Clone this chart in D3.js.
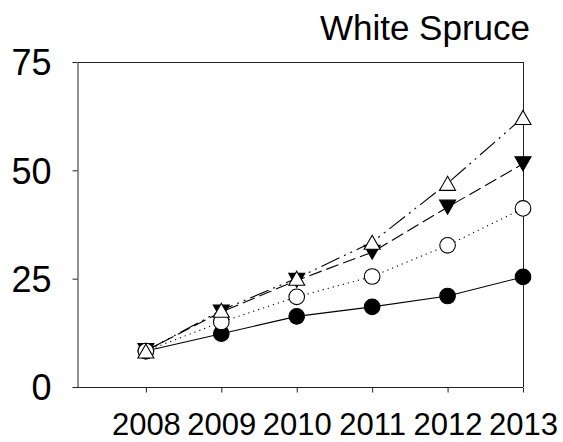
<!DOCTYPE html>
<html>
<head>
<meta charset="utf-8">
<script src="https://cdn.jsdelivr.net/npm/d3@7"></script>
<style>
  html, body { margin: 0; padding: 0; background: #fff; }
  svg { display: block; font-family: Arial, "Liberation Sans", sans-serif; }
</style>
</head>
<body>
<svg id="chart" width="563" height="442"></svg>
<script>
// Height growth of White Spruce, 2008–2013, four treatments
const years = [2008, 2009, 2010, 2011, 2012, 2013];
const yTicks = [0, 25, 50, 75];
const title = "White Spruce";

const filledCircle   = [8.3, 12.3, 16.3, 18.5, 21.0, 25.4];
const openCircle     = [8.3, 15.0, 20.8, 25.5, 32.7, 41.2];
const filledTriangle = [8.4, 17.3, 24.6, 31.1, 41.5, 51.5];
const openTriangle   = [8.3, 17.7, 25.1, 33.4, 47.0, 62.2];

const series = [
  { values: filledCircle,   marker: "circle",   fill: "#000", dash: null },
  { values: filledTriangle, marker: "triDown",  fill: "#000", dash: "13,5" },
  { values: openCircle,     marker: "circle",   fill: "#fff", dash: "1.2,4" },
  { values: openTriangle,   marker: "triUp",    fill: "#fff", dash: "20,5,2,5,2,5" }
];

const svg = d3.select("#chart");
const plot = { left: 78, right: 523, top: 62, bottom: 387 };

const x = d3.scaleLinear().domain([2007.1, 2013]).range([plot.left, plot.right]);
const y = d3.scaleLinear().domain([0, 75]).range([plot.bottom, plot.top]);

// Frame: top and right edges
svg.append("line")
  .attr("x1", plot.left).attr("x2", plot.right)
  .attr("y1", plot.top + 0.5).attr("y2", plot.top + 0.5)
  .attr("stroke", "#222").attr("stroke-width", 1);
svg.append("line")
  .attr("x1", plot.right + 0.5).attr("x2", plot.right + 0.5)
  .attr("y1", plot.top).attr("y2", plot.bottom)
  .attr("stroke", "#222").attr("stroke-width", 1);

// Axes
const xAxis = d3.axisBottom(x).tickValues(years).tickFormat(d3.format("d"))
  .tickSizeInner(5).tickSizeOuter(0).tickPadding(20);
const yAxis = d3.axisLeft(y).tickValues(yTicks)
  .tickSizeInner(5).tickSizeOuter(0).tickPadding(21);

const gx = svg.append("g").attr("transform", `translate(0,${plot.bottom + 0.5})`).call(xAxis);
const gy = svg.append("g").attr("transform", `translate(${plot.left - 0.5},0)`).call(yAxis);

[gx, gy].forEach(g => {
  g.select(".domain").attr("stroke", "#222");
  g.selectAll(".tick line").attr("stroke", "#222");
  g.selectAll(".tick text").attr("fill", "#000").attr("font-family", "Arial, 'Liberation Sans', sans-serif");
});
gx.selectAll(".tick text").attr("font-size", 31);
gy.selectAll(".tick text").attr("font-size", 36).attr("dy", "0.36em");
// extend x baseline to the left tick length
gx.select(".domain").attr("d", `M${plot.left - 5},0H${plot.right}`);

// Title
svg.append("text")
  .attr("x", plot.right + 7).attr("y", 40)
  .attr("text-anchor", "end")
  .attr("font-size", 35)
  .attr("fill", "#000")
  .text(title);

// Lines
const line = d3.line().x((d, i) => x(years[i])).y(d => y(d));
series.forEach(s => {
  svg.append("path")
    .attr("d", line(s.values))
    .attr("fill", "none")
    .attr("stroke", "#000")
    .attr("stroke-width", 1.1)
    .attr("stroke-dasharray", s.dash);
});

// Markers
function markerPath(type) {
  const w = 8, h = 7;
  if (type === "triUp") return `M0,${-h}L${w},${h}L${-w},${h}Z`;
  if (type === "triDown") return `M0,${h}L${w},${-h}L${-w},${-h}Z`;
  return null;
}
series.forEach(s => {
  const g = svg.append("g");
  s.values.forEach((v, i) => {
    if (s.marker === "circle") {
      g.append("circle")
        .attr("cx", x(years[i])).attr("cy", y(v)).attr("r", 7.8)
        .attr("fill", s.fill).attr("stroke", "#000").attr("stroke-width", 1.1);
    } else {
      g.append("path")
        .attr("d", markerPath(s.marker))
        .attr("transform", `translate(${x(years[i])},${y(v)})`)
        .attr("fill", s.fill).attr("stroke", "#000").attr("stroke-width", 1.1);
    }
  });
});
</script>
</body>
</html>
